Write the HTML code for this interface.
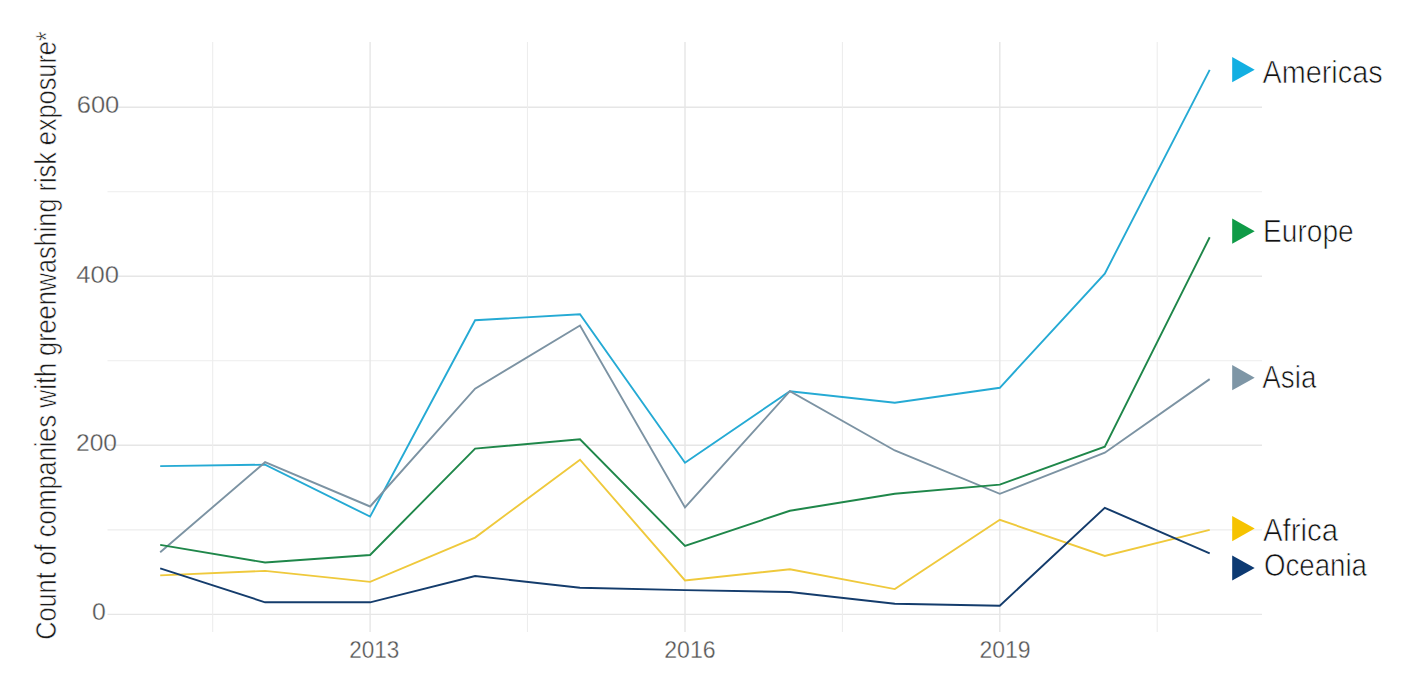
<!DOCTYPE html>
<html><head><meta charset="utf-8"><style>
html,body{margin:0;padding:0;background:#fff;}
body{width:1407px;height:678px;overflow:hidden;}
svg{display:block;font-family:"Liberation Sans",sans-serif;}
</style></head><body>
<svg width="1407" height="678" viewBox="0 0 1407 678">
<rect width="1407" height="678" fill="#fff"/>

<line x1="107.5" x2="1262" y1="614.4" y2="614.4" stroke="#E6E6E6" stroke-width="1.4"/>
<line x1="107.5" x2="1262" y1="529.9" y2="529.9" stroke="#EDEDED" stroke-width="1.1"/>
<line x1="107.5" x2="1262" y1="445.3" y2="445.3" stroke="#E6E6E6" stroke-width="1.4"/>
<line x1="107.5" x2="1262" y1="360.8" y2="360.8" stroke="#EDEDED" stroke-width="1.1"/>
<line x1="107.5" x2="1262" y1="276.3" y2="276.3" stroke="#E6E6E6" stroke-width="1.4"/>
<line x1="107.5" x2="1262" y1="191.7" y2="191.7" stroke="#EDEDED" stroke-width="1.1"/>
<line x1="107.5" x2="1262" y1="107.2" y2="107.2" stroke="#E6E6E6" stroke-width="1.4"/>
<line x1="212.7" x2="212.7" y1="42" y2="632" stroke="#EDEDED" stroke-width="1.1"/>
<line x1="370.1" x2="370.1" y1="42" y2="632" stroke="#E6E6E6" stroke-width="1.4"/>
<line x1="527.5" x2="527.5" y1="42" y2="632" stroke="#EDEDED" stroke-width="1.1"/>
<line x1="685.0" x2="685.0" y1="42" y2="632" stroke="#E6E6E6" stroke-width="1.4"/>
<line x1="842.4" x2="842.4" y1="42" y2="632" stroke="#EDEDED" stroke-width="1.1"/>
<line x1="999.8" x2="999.8" y1="42" y2="632" stroke="#E6E6E6" stroke-width="1.4"/>
<line x1="1157.2" x2="1157.2" y1="42" y2="632" stroke="#EDEDED" stroke-width="1.1"/>
<text x="76.7" y="112.8" font-size="23.5" fill="#555" stroke="#fff" stroke-width="0.3" textLength="42.6" lengthAdjust="spacingAndGlyphs">600</text>
<text x="76.2" y="282.8" font-size="23.5" fill="#555" stroke="#fff" stroke-width="0.3" textLength="42.7" lengthAdjust="spacingAndGlyphs">400</text>
<text x="76.0" y="450.6" font-size="23.5" fill="#555" stroke="#fff" stroke-width="0.3" textLength="41.0" lengthAdjust="spacingAndGlyphs">200</text>
<text x="91.9" y="619.9" font-size="23.5" fill="#555" stroke="#fff" stroke-width="0.3" textLength="13.8" lengthAdjust="spacingAndGlyphs">0</text>
<text x="349.2" y="657.6" font-size="23.5" fill="#555" stroke="#fff" stroke-width="0.3" textLength="50.1" lengthAdjust="spacingAndGlyphs">2013</text>
<text x="664.3" y="657.6" font-size="23.5" fill="#555" stroke="#fff" stroke-width="0.3" textLength="51.3" lengthAdjust="spacingAndGlyphs">2016</text>
<text x="979.5" y="657.6" font-size="23.5" fill="#555" stroke="#fff" stroke-width="0.3" textLength="51.1" lengthAdjust="spacingAndGlyphs">2019</text>
<polyline points="160.2,466.1 265.1,464.7 370.1,516.6 475.1,320.2 580.0,314.3 685.0,462.7 789.9,391.2 894.8,402.8 999.8,387.8 1104.8,273.6 1209.7,69.9" fill="none" stroke="#25AAD4" stroke-width="1.9" stroke-linejoin="miter"/>
<polyline points="160.2,552.2 265.1,462.2 370.1,506.5 475.1,388.7 580.0,325.5 685.0,507.4 789.9,391.2 894.8,450.5 999.8,493.8 1104.8,452.7 1209.7,379.1" fill="none" stroke="#7C93A3" stroke-width="1.9" stroke-linejoin="miter"/>
<polyline points="160.2,544.9 265.1,562.5 370.1,555.0 475.1,448.6 580.0,439.3 685.0,545.8 789.9,510.8 894.8,493.8 999.8,484.6 1104.8,446.7 1209.7,237.3" fill="none" stroke="#1F874A" stroke-width="1.9" stroke-linejoin="miter"/>
<polyline points="160.2,575.4 265.1,570.9 370.1,581.9 475.1,537.6 580.0,459.7 685.0,580.4 789.9,569.2 894.8,589.1 999.8,519.8 1104.8,556.0 1209.7,529.8" fill="none" stroke="#EFC93C" stroke-width="1.9" stroke-linejoin="miter"/>
<polyline points="160.2,568.4 265.1,602.3 370.1,602.3 475.1,576.0 580.0,587.7 685.0,590.1 789.9,592.0 894.8,603.7 999.8,605.7 1104.8,507.8 1209.7,553.4" fill="none" stroke="#143C6C" stroke-width="1.9" stroke-linejoin="miter"/>
<polygon points="1232.2,57.1 1254.7,69.7 1232.2,82.3" fill="#13AFE2"/>
<text x="1262.4" y="83.4" font-size="31.9" fill="#111" stroke="#fff" stroke-width="0.7" textLength="120.2" lengthAdjust="spacingAndGlyphs">Americas</text>
<polygon points="1232.2,218.6 1254.7,231.2 1232.2,243.8" fill="#0F9B47"/>
<text x="1263.1" y="241.6" font-size="31.9" fill="#111" stroke="#fff" stroke-width="0.7" textLength="90.6" lengthAdjust="spacingAndGlyphs">Europe</text>
<polygon points="1232.2,365.1 1254.7,377.7 1232.2,390.3" fill="#7E96A6"/>
<text x="1262.3" y="388.2" font-size="31.9" fill="#111" stroke="#fff" stroke-width="0.7" textLength="54.1" lengthAdjust="spacingAndGlyphs">Asia</text>
<polygon points="1232.2,516.0 1254.7,528.6 1232.2,541.2" fill="#F6C300"/>
<text x="1262.9" y="540.5" font-size="31.9" fill="#111" stroke="#fff" stroke-width="0.7" textLength="75.3" lengthAdjust="spacingAndGlyphs">Africa</text>
<polygon points="1232.2,555.4 1254.7,568.0 1232.2,580.6" fill="#0D3A72"/>
<text x="1263.9" y="575.9" font-size="31.9" fill="#111" stroke="#fff" stroke-width="0.7" textLength="103.1" lengthAdjust="spacingAndGlyphs">Oceania</text>
<text transform="translate(55.5,639.8) rotate(-90)" x="0" y="0" font-size="29" fill="#1a1a1a" stroke="#fff" stroke-width="0.6" textLength="608.5" lengthAdjust="spacingAndGlyphs">Count of companies with greenwashing risk exposure*</text>
</svg></body></html>
